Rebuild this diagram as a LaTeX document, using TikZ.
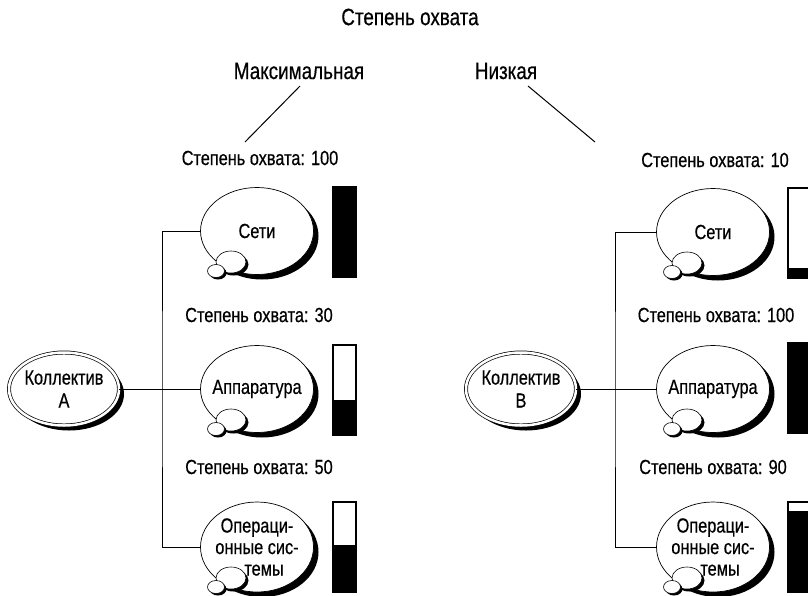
\documentclass[tikz,border=0pt]{standalone}
\usepackage{fontspec}
\setmainfont{Liberation Sans}[FakeStretch=0.8,FakeBold=0.5]
\usetikzlibrary{shapes.geometric,shadows,calc}
\newcommand\myfs{\fontsize{20.4}{21.5}\selectfont}
\newcommand\myhfs{\fontsize{23.6}{24}\selectfont}
\begin{document}
\begin{tikzpicture}[x=1pt,y=-1pt,
  txt/.style={inner sep=0pt, font=\myfs, align=center},
  head/.style={inner sep=0pt, font=\myhfs, align=center},
  shad/.style={drop shadow={shadow xshift=#1, shadow yshift=-#1, opacity=1, fill=black}},
  cloud/.style={ellipse, draw, line width=0.7pt, fill=white, minimum width=113pt,
    minimum height=87pt, inner sep=0pt, shad=5pt},
  bigbub/.style={ellipse, draw, line width=0.6pt, fill=white, minimum width=30pt,
    minimum height=22pt, inner sep=0pt, shad=2.5pt},
  smallbub/.style={ellipse, draw, line width=0.6pt, fill=white, minimum width=17pt,
    minimum height=13pt, inner sep=0pt, shad=2pt},
  coll/.style={ellipse, draw, double, double distance=2.5pt, line width=0.7pt, fill=white,
    minimum width=110pt, minimum height=73pt, inner sep=0pt, shad=5pt},
  conn/.style={line width=1pt},
  barframe/.style={draw, line width=1.3pt, fill=white},
  barfill/.style={fill=black}]
\useasboundingbox (0,0) rectangle (808,595);

% headings
\node[head] (title) at (410,17) {Степень охвата};
\node[head] (maxl) at (299,71) {Максимальная};
\node[head] (lowl) at (506,71) {Низкая};
\coordinate (m1) at (300,86);
\coordinate (m2) at (245,142);
\coordinate (n1) at (528,86);
\coordinate (n2) at (595,142);
\draw[conn] (m1) -- (m2);
\draw[conn] (n1) -- (n2);

% labels
\node[txt] (la1) at (260,158) {Степень охвата: 100};
\node[txt] (la2) at (259,315) {Степень охвата: 30};
\node[txt] (la3) at (259,467) {Степень охвата: 50};
\node[txt] (lb1) at (715,160) {Степень охвата: 10};
\node[txt] (lb2) at (716,315) {Степень охвата: 100};
\node[txt] (lb3) at (713,467) {Степень охвата: 90};

% clouds left
\node[cloud] (a1) at (257,231) {};
\node[bigbub] (a1b) at ($(a1)+(-26,31)$) {};
\node[smallbub] (a1s) at ($(a1)+(-41,40)$) {};
\node[txt] (a1t) at (a1) {Сети};
\node[cloud] (a2) at (257,389) {};
\node[bigbub] (a2b) at ($(a2)+(-26,31)$) {};
\node[smallbub] (a2s) at ($(a2)+(-41,40)$) {};
\node[txt] (a2t) at (a2) {Аппаратура};
\node[cloud, minimum height=90pt] (a3) at (257,547) {};
\node[bigbub] (a3b) at ($(a3)+(-26,31)$) {};
\node[smallbub] (a3s) at ($(a3)+(-41,40)$) {};
\node[txt] (a3t) at ($(a3)+(0,0)$) {Операци-\\онные сис-\\\hspace*{14pt}темы};

% clouds right
\node[cloud] (b1) at (713,232) {};
\node[bigbub] (b1b) at ($(b1)+(-26,31)$) {};
\node[smallbub] (b1s) at ($(b1)+(-41,40)$) {};
\node[txt] (b1t) at (b1) {Сети};
\node[cloud] (b2) at (713,389) {};
\node[bigbub] (b2b) at ($(b2)+(-26,31)$) {};
\node[smallbub] (b2s) at ($(b2)+(-41,40)$) {};
\node[txt] (b2t) at (b2) {Аппаратура};
\node[cloud, minimum height=90pt] (b3) at (713,547) {};
\node[bigbub] (b3b) at ($(b3)+(-26,31)$) {};
\node[smallbub] (b3s) at ($(b3)+(-41,40)$) {};
\node[txt] (b3t) at ($(b3)+(0,0)$) {Операци-\\онные сис-\\\hspace*{14pt}темы};

% collectives
\node[coll] (ca) at (64,389) {};
\node[txt, font=\fontsize{20.4}{23}\selectfont] (cat) at (ca) {Коллектив\\А};
\node[coll] (cb) at (521,389) {};
\node[txt, font=\fontsize{20.4}{23}\selectfont] (cbt) at (cb) {Коллектив\\В};

% connectors
\coordinate (ja) at (162,389);
\coordinate (jb) at (615,389);
\draw[conn] (ca) -- (a2);
\draw[conn] (a1.west) -| (ja) |- (a3.west);
\draw[conn] (cb) -- (b2);
\draw[conn] (b1.west) -| (jb) |- (b3.west);

% bars left
\draw[barframe] (333,187) rectangle (356,277);
\fill[barfill] (333,187) rectangle (356,277);
\draw[barframe] (333,345) rectangle (356,435);
\fill[barfill] (333,400) rectangle (356,435);
\draw[barframe] (333,502) rectangle (356,592);
\fill[barfill] (333,545) rectangle (356,592);

% bars right
\draw[barframe] (788,188) rectangle (811,278);
\fill[barfill] (788,268) rectangle (811,278);
\draw[barframe] (788,343) rectangle (811,433);
\fill[barfill] (788,343) rectangle (811,433);
\draw[barframe] (788,502) rectangle (811,592);
\fill[barfill] (788,511) rectangle (811,592);
\end{tikzpicture}
\end{document}
